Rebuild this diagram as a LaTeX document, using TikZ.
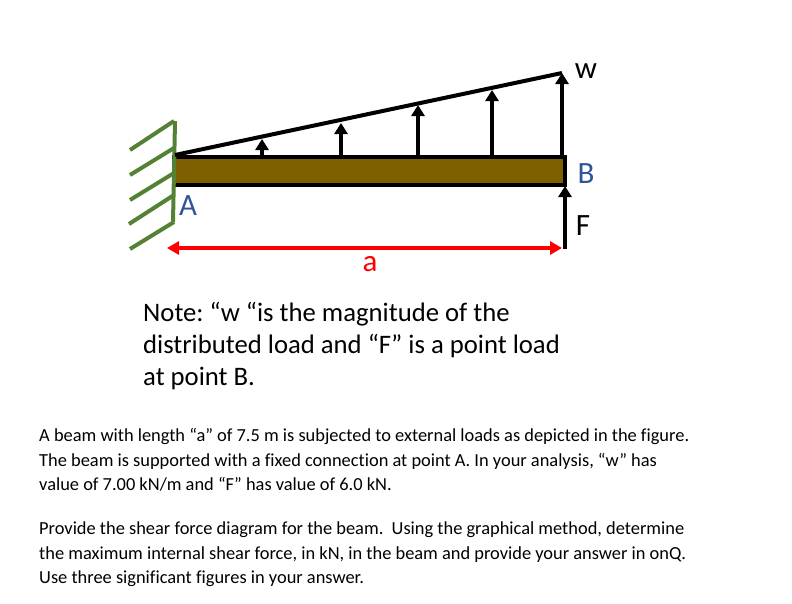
\documentclass[tikz,border=0pt]{standalone}
\usepackage{fontspec}
\setmainfont[Ligatures=NoCommon]{Carlito}
\usetikzlibrary{arrows.meta}
\definecolor{beamfill}{RGB}{127, 96, 0}
\definecolor{wallgreen}{RGB}{84, 130, 53}
\definecolor{labelblue}{RGB}{47, 85, 151}
\tikzstyle{load} = [
    line width=3.4pt,
    -{Triangle[length=11pt,width=13pt]},
    draw=black
]
\tikzstyle{hatch} = [
    line width=4pt,
    draw=wallgreen
]
\tikzstyle{callout} = [
    font=\fontsize{31}{31}\selectfont,
    inner sep=0pt
]
\tikzstyle{notetext} = [
    font=\fontsize{26.7}{26.7}\selectfont\frenchspacing,
    inner sep=0pt,
    anchor=base west
]
\tikzstyle{bodytext} = [
    font=\fontsize{18.4}{18.4}\selectfont\frenchspacing,
    inner sep=0pt,
    anchor=base west
]

\begin{document}
\begin{tikzpicture}[x=1pt,y=-1pt]
    \useasboundingbox (0,0) rectangle (792,603);
    % beam
    \node[draw=black, fill=beamfill, line width=4pt, minimum width=391pt, minimum height=28pt,
        inner sep=0pt] (beam) at (369.5,171) {};
    % wall
    \coordinate (walltop) at (175,121);
    \coordinate (wallbot) at (173,222);
    \foreach \ya/\xb/\yb [count=\i] in {
        121/130/150,
        148/130/175,
        173/130/200,
        195/129/224,
        222/130/249
    } {
        \coordinate (wa\i) at (174,\ya);
        \coordinate (wb\i) at (\xb,\yb);
        \draw[hatch] (wa\i) -- (wb\i);
    }
    \draw[hatch] (walltop) -- (wallbot);
    % distributed load
    \coordinate (loadstart) at (175,155);
    \coordinate (loadend) at (562,73);
    \draw[line width=4pt] (loadstart) -- (loadend);
    \foreach \x/\y [count=\i] in {
        262/139,
        341/123,
        418/105,
        492/90,
        562/73
    } {
        \coordinate (tip\i) at (\x,\y);
        \coordinate (foot\i) at (\x,157);
        \draw[load] (foot\i) -- (tip\i);
    }
    % point load and dimension
    \coordinate (fbase) at (565,249);
    \coordinate (ftip) at (565,186);
    \draw[load] (fbase) -- (ftip);
    \coordinate (dimleft) at (167,248);
    \coordinate (dimright) at (562,248);
    \draw[line width=3.5pt, draw=red, {Triangle[length=12pt,width=13pt]}-{Triangle[length=12pt,width=13pt]}]
        (dimleft) -- (dimright);
    % labels
    \node[callout] (lw) at (586,71) {w};
    \node[callout, text=labelblue] (lb) at (586,174) {B};
    \node[callout, text=labelblue] (la) at (188,206) {A};
    \node[callout] (lf) at (583,226) {F};
    \node[callout, text=red] (ldim) at (370,264) {a};
    % note
    \node[notetext] (note1) at (143,321) {Note: “w “is the magnitude of the};
    \node[notetext] (note2) at (143,353) {distributed load and “F” is a point load};
    \node[notetext] (note3) at (143,385) {at point B.};
    % problem text
    \node[bodytext] (p1) at (39,441) {A beam with length “a” of 7.5 m is subjected to external loads as depicted in the figure.};
    \node[bodytext] (p2) at (39,466) {The beam is supported with a fixed connection at point A. In your analysis, “w” has};
    \node[bodytext] (p3) at (39,490) {value of 7.00 kN/m and “F” has value of 6.0 kN.};
    \node[bodytext] (p4) at (39,534) {Provide the shear force diagram for the beam.\ \ Using the graphical method, determine};
    \node[bodytext] (p5) at (39,559) {the maximum internal shear force, in kN, in the beam and provide your answer in onQ.};
    \node[bodytext] (p6) at (39,583) {Use three significant figures in your answer.};
\end{tikzpicture}
\end{document}
